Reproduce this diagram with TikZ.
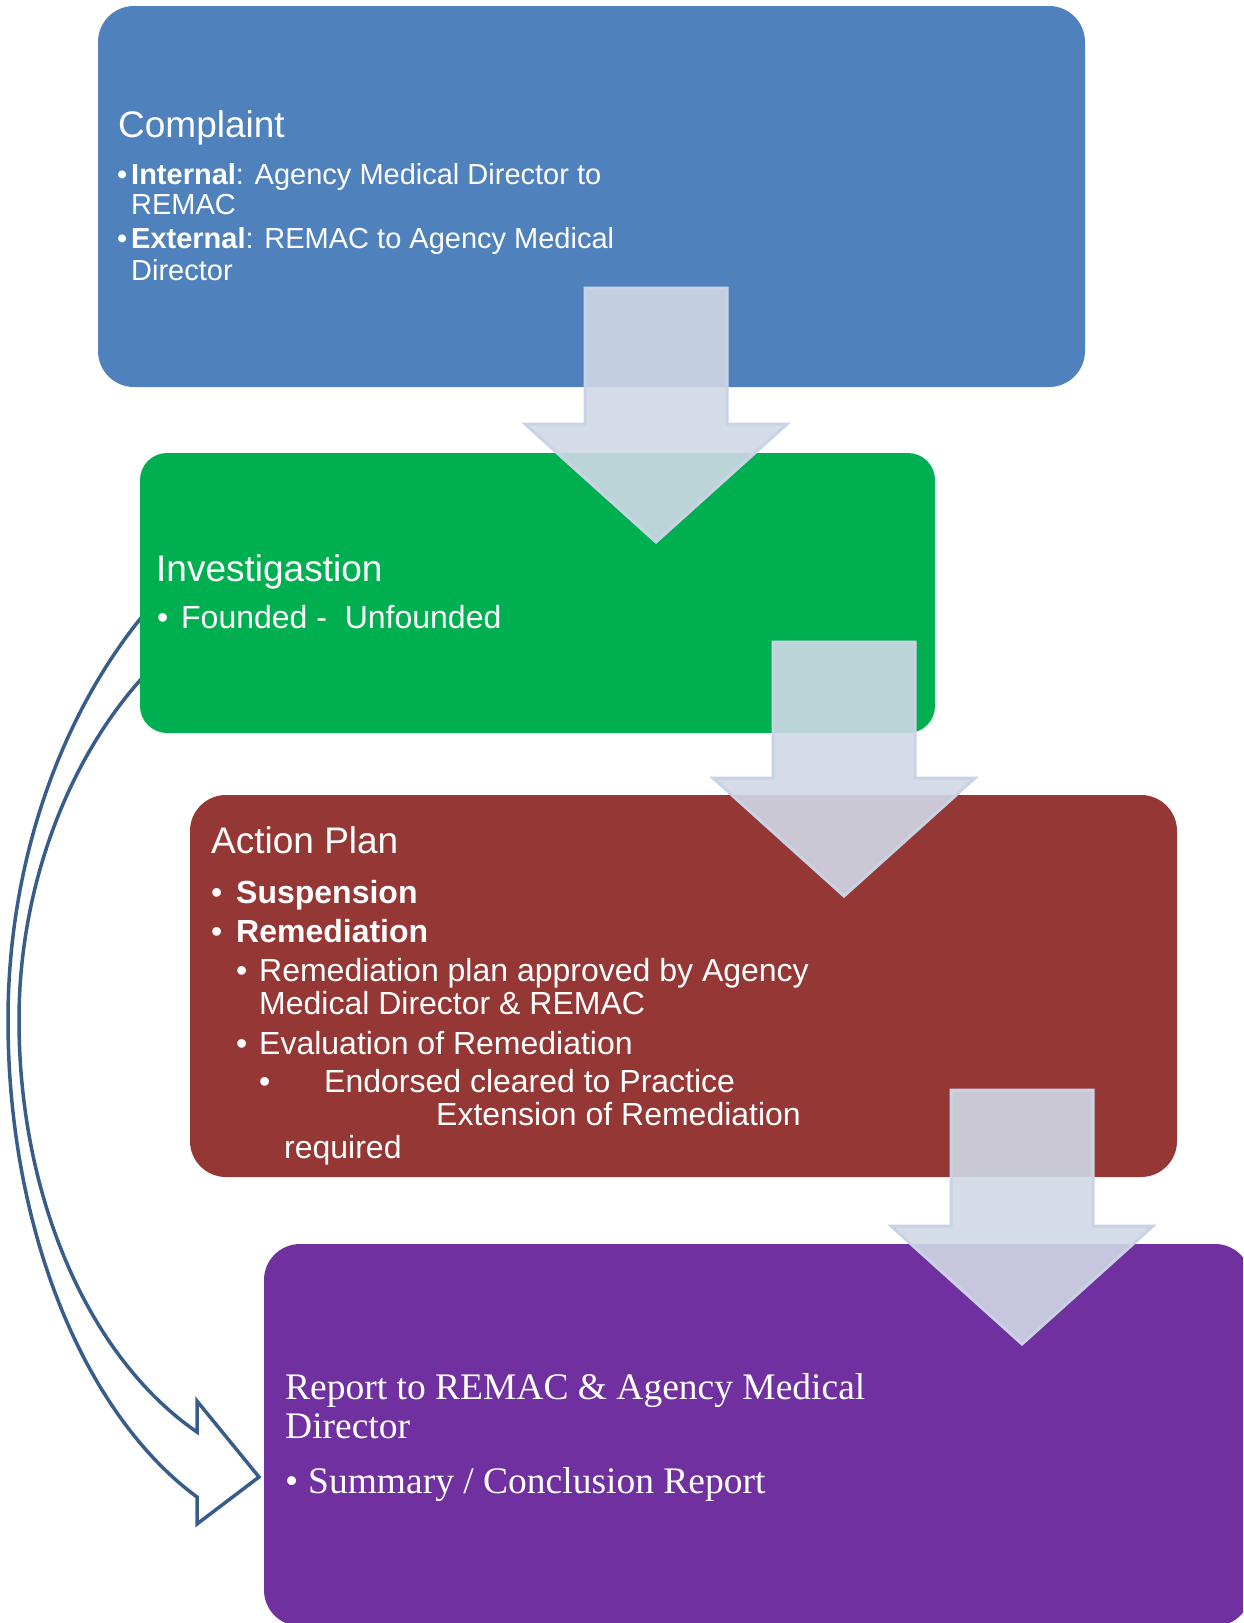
\documentclass[tikz,border=0pt]{standalone}
\usepackage{fontspec}
\setmainfont{Liberation Sans}
\newfontfamily\reportfont{Liberation Serif}
\definecolor{cblue}{RGB}{79,129,189}
\definecolor{cgreen}{RGB}{0,176,80}
\definecolor{cred}{RGB}{149,55,53}
\definecolor{cpurple}{RGB}{112,48,160}
\definecolor{arrowfill}{RGB}{208,216,230}
\definecolor{arrowline}{RGB}{202,211,230}
\definecolor{loopblue}{RGB}{56,93,138}
\tikzset{
box/.style={rounded corners=36pt, inner sep=0pt, minimum width=987pt, minimum height=381pt}, % the four coloured steps
flowarrow/.style={fill=arrowfill, fill opacity=0.9, draw=arrowline, line width=3pt}, % down arrows between steps
loopline/.style={draw=loopblue, line width=3.5pt}, % outline of the bypass arrow
boxtext/.style={anchor=base west, inner sep=0pt, text=white}, % one line of text
}
\newcommand{\bigsize}{\fontsize{37}{40}\selectfont}
\newcommand{\smallsize}{\fontsize{29}{31}\selectfont}
\newcommand{\plansize}{\fontsize{32}{34}\selectfont}
\newcommand{\reportsize}{\reportfont\fontsize{37.5}{40}\selectfont}

\begin{document}
\begin{tikzpicture}[x=1pt, y=-1pt]
\clip (0,0) rectangle (1243,1623);

% bypass arrow from Investigation down to the Report
\draw[loopline] (145,613) .. controls (62,713) and (8,860) .. (8,1020)
    .. controls (8,1226) and (82,1412) .. (197,1497) -- (197,1524) -- (259,1477)
    -- (197,1401) -- (197,1432) .. controls (88,1357) and (19,1196) .. (19,1020)
    .. controls (19,890) and (66,762) .. (143,677);

% steps
\node[box, fill=cblue] (complaint) at (591.5,196.5) {};
\node[box, fill=cgreen, rounded corners=27pt, minimum width=795pt, minimum height=280pt] (investigation) at (537.5,593) {};
\node[box, fill=cred, minimum height=382pt] (actionplan) at (683.5,986) {};
\node[box, fill=cpurple, minimum height=382pt] (report) at (757.5,1435) {};

% text of the steps
\node[boxtext, font=\bigsize] (complainttitle) at (118,137) {Complaint};
\node[boxtext, font=\smallsize] (internal) at (117,184) {\makebox[14pt][l]{\textbullet}\textbf{Internal}: Agency Medical Director to};
\node[boxtext, font=\smallsize] (internalb) at (131,214) {REMAC};
\node[boxtext, font=\smallsize] (external) at (117,248) {\makebox[14pt][l]{\textbullet}\textbf{External}: REMAC to Agency Medical};
\node[boxtext, font=\smallsize] (externalb) at (131,280) {Director};

\node[boxtext, font=\bigsize] (investigationtitle) at (156,581) {Investigastion};
\node[boxtext, font=\fontsize{32}{34}\selectfont] (founded) at (157,628) {\makebox[24pt][l]{\textbullet}Founded -\ \ Unfounded};

\node[boxtext, font=\bigsize] (actiontitle) at (211,853) {Action Plan};
\node[boxtext, font=\plansize] (suspension) at (211,903) {\makebox[25pt][l]{\textbullet}\textbf{Suspension}};
\node[boxtext, font=\plansize] (remediation) at (211,942) {\makebox[25pt][l]{\textbullet}\textbf{Remediation}};
\node[boxtext, font=\plansize] (remplan) at (236,981) {\makebox[23pt][l]{\textbullet}Remediation plan approved by Agency};
\node[boxtext, font=\plansize] (remplanb) at (259,1014) {Medical Director \& REMAC};
\node[boxtext, font=\plansize] (evaluation) at (236,1054) {\makebox[23pt][l]{\textbullet}Evaluation of Remediation};
\node[boxtext, font=\plansize] (endorsed) at (259,1092) {\makebox[65pt][l]{\textbullet}Endorsed cleared to Practice};
\node[boxtext, font=\plansize] (extension) at (436,1125) {Extension of Remediation};
\node[boxtext, font=\plansize] (required) at (284,1158) {required};

\node[boxtext, font=\reportsize] (reporttitle) at (285,1399) {Report to REMAC \& Agency Medical};
\node[boxtext, font=\reportsize] (reporttitleb) at (285,1438) {Director};
\node[boxtext, font=\reportsize] (summary) at (285,1493) {\makebox[23pt][l]{\textbullet}Summary / Conclusion Report};

% down arrows between the steps
\foreach \cx/\top in {656/288, 844/642, 1022/1090}
    \draw[flowarrow] (\cx-71,\top) -- (\cx+71,\top) -- (\cx+71,\top+136) -- (\cx+131,\top+136)
        -- (\cx,\top+254) -- (\cx-131,\top+136) -- (\cx-71,\top+136) -- cycle;
\end{tikzpicture}
\end{document}
